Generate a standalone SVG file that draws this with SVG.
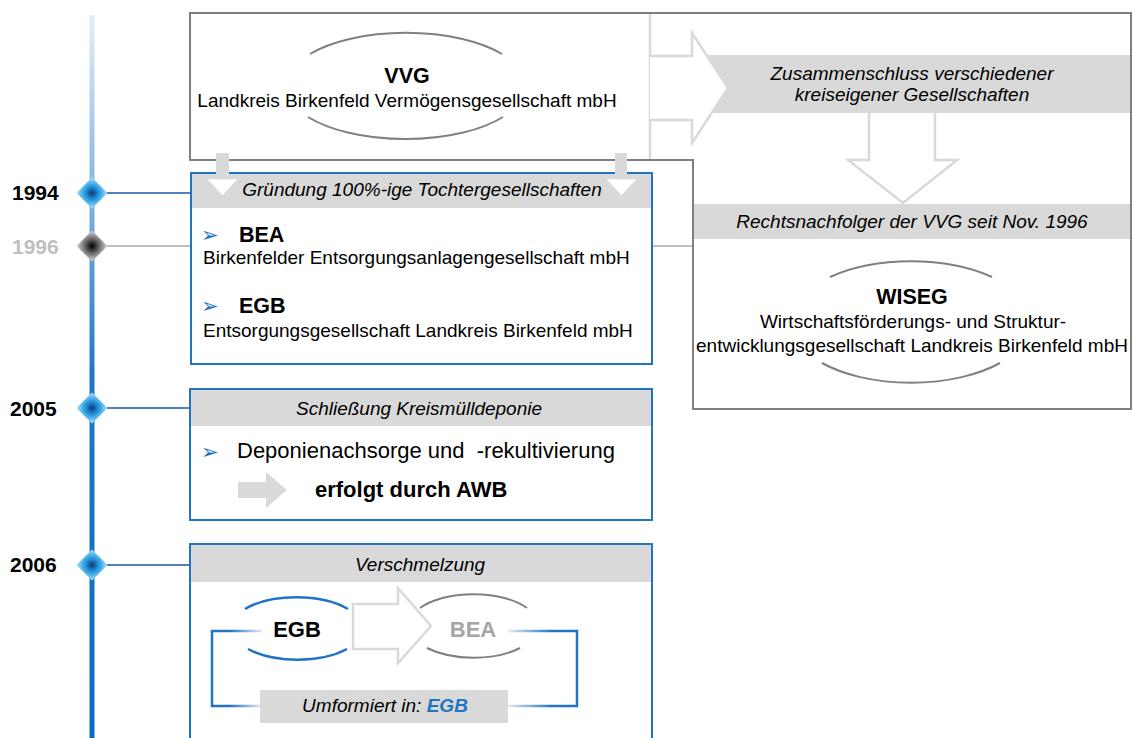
<svg xmlns="http://www.w3.org/2000/svg" width="1133" height="738" viewBox="0 0 1133 738">
<style>
text{font-family:"Liberation Sans",Arial,sans-serif;fill:#000}
.it{font-style:italic;font-size:19px}
.reg{font-size:19px}
.bold{font-weight:bold;font-size:21.5px}
.yr{font-weight:bold;font-size:21px}
.blueBox{fill:#fff;stroke:#1f74c4;stroke-width:2}
.band{fill:#d9d9d9}
.garc{fill:none;stroke:#808080;stroke-width:2}
.barc{fill:none;stroke:#1f74c4;stroke-width:2.5}
.lgArrow{fill:#fff;stroke:#d9d9d9;stroke-width:2.5}
.bullet{font-family:"DejaVu Sans",sans-serif;font-size:21px;fill:#1f74c4}
.conn{stroke:#4f81bd;stroke-width:2;fill:none}
</style>
<defs>
<linearGradient id="gTime" gradientUnits="userSpaceOnUse" x1="0" y1="15" x2="0" y2="738">
<stop offset="0" stop-color="#e6eef8"/>
<stop offset="0.3" stop-color="#6fa6da"/>
<stop offset="0.5" stop-color="#1f76c6"/>
<stop offset="1" stop-color="#0b6cc4"/>
</linearGradient>
<radialGradient id="gBlue" cx="50%" cy="50%" r="55%">
<stop offset="0" stop-color="#1b3570"/>
<stop offset="0.35" stop-color="#1b8fd9"/>
<stop offset="0.7" stop-color="#6cc4f0"/>
<stop offset="1" stop-color="#e4f3fc"/>
</radialGradient>
<radialGradient id="gGrey" cx="50%" cy="50%" r="55%">
<stop offset="0" stop-color="#000"/>
<stop offset="0.35" stop-color="#555"/>
<stop offset="0.7" stop-color="#aaa"/>
<stop offset="1" stop-color="#eee"/>
</radialGradient>
<linearGradient id="gBrL" gradientUnits="userSpaceOnUse" x1="212" y1="0" x2="262" y2="0">
<stop offset="0" stop-color="#1f74c4"/>
<stop offset="0.35" stop-color="#1f74c4"/>
<stop offset="1" stop-color="#e3eaf4"/>
</linearGradient>
<linearGradient id="gBrR" gradientUnits="userSpaceOnUse" x1="577" y1="0" x2="508" y2="0">
<stop offset="0" stop-color="#1f74c4"/>
<stop offset="0.35" stop-color="#1f74c4"/>
<stop offset="1" stop-color="#e3eaf4"/>
</linearGradient>
<polygon id="dia" points="0,-15.5 15.5,0 0,15.5 -15.5,0"/>
</defs>

<g id="timeline">
<line x1="92" y1="15" x2="92" y2="738" stroke="url(#gTime)" stroke-width="5"/>
</g>

<g id="connectors">
<line class="conn" x1="106" y1="193" x2="191" y2="193"/>
<line x1="106" y1="246" x2="693" y2="246" stroke="#bfbfbf" stroke-width="2"/>
<line class="conn" x1="106" y1="408" x2="191" y2="408"/>
<line class="conn" x1="106" y1="565" x2="191" y2="565"/>
</g>

<g id="years">
<use href="#dia" x="92" y="193" fill="url(#gBlue)"/>
<use href="#dia" x="92" y="246" fill="url(#gGrey)"/>
<use href="#dia" x="92" y="408" fill="url(#gBlue)"/>
<use href="#dia" x="92" y="565" fill="url(#gBlue)"/>
<text class="yr" x="12" y="200">1994</text>
<text class="yr" x="12" y="254" style="fill:#bfbfbf">1996</text>
<text class="yr" x="10" y="416">2005</text>
<text class="yr" x="10" y="572">2006</text>
</g>

<g id="vvg-wiseg">
<rect class="band" x="692" y="55" width="439" height="58"/>
<rect class="band" x="693" y="204" width="438" height="35"/>
<line x1="650" y1="13" x2="650" y2="160" stroke="#d9d9d9" stroke-width="2.5"/>
<path class="lgArrow" d="M650,56 H692 V33 L728,88 L692,143 V120 H650"/>
<path class="lgArrow" d="M869,113 V160 H848 L903,203 L957,160 H935 V113"/>
<path d="M190,160 V13 H1131 V409 H693 V160 Z" fill="none" stroke="#7f7f7f" stroke-width="2"/>
<path class="garc" d="M310,54 A120,53 0 0 1 502,54"/>
<path class="garc" d="M308,117 A120,53 0 0 0 503,117"/>
<text class="bold" x="407" y="83" text-anchor="middle">VVG</text>
<text class="reg" x="407" y="107" text-anchor="middle">Landkreis Birkenfeld Vermögensgesellschaft mbH</text>
<text class="it" x="912" y="80" text-anchor="middle">Zusammenschluss verschiedener</text>
<text class="it" x="912" y="101" text-anchor="middle">kreiseigener Gesellschaften</text>
<text class="it" x="912" y="228" text-anchor="middle">Rechtsnachfolger der VVG seit Nov. 1996</text>
<path class="garc" d="M830,277 A120,60 0 0 1 992,277"/>
<path class="garc" d="M822,363 A120,60 0 0 0 1000,363"/>
<text class="bold" x="912" y="304" text-anchor="middle">WISEG</text>
<text class="reg" x="913" y="328" text-anchor="middle">Wirtschaftsförderungs- und Struktur-</text>
<text class="reg" x="912" y="352" text-anchor="middle">entwicklungsgesellschaft Landkreis Birkenfeld mbH</text>
</g>

<g id="gruendung">
<rect class="blueBox" x="191" y="173" width="461" height="191"/>
<rect class="band" x="192" y="174" width="459" height="34"/>
<rect class="band" x="216" y="153" width="13" height="25"/>
<rect class="band" x="615" y="153" width="12" height="25"/>
<polygon class="lgArrow" points="205,178 240,178 222.5,197"/>
<polygon class="lgArrow" points="604,178 639,178 621.5,197"/>
<text class="it" x="422" y="196" text-anchor="middle">Gründung 100%-ige Tochtergesellschaften</text>
<text class="bullet" x="201" y="242">➢</text>
<text class="bold" x="239" y="242">BEA</text>
<text class="reg" x="203" y="264">Birkenfelder Entsorgungsanlagengesellschaft mbH</text>
<text class="bullet" x="201" y="313">➢</text>
<text class="bold" x="239" y="313">EGB</text>
<text class="reg" x="203" y="337">Entsorgungsgesellschaft Landkreis Birkenfeld mbH</text>
</g>

<g id="schliessung">
<rect class="blueBox" x="190" y="389" width="462" height="131"/>
<rect class="band" x="191" y="390" width="460" height="36"/>
<text class="it" x="419" y="415" text-anchor="middle">Schließung Kreismülldeponie</text>
<text class="bullet" x="201" y="459">➢</text>
<text x="237" y="458" style="font-size:22px;white-space:pre" xml:space="preserve">Deponienachsorge und  -rekultivierung</text>
<polygon class="band" points="238,482 266,482 266,472 287,490 266,508 266,498 238,498"/>
<text x="315" y="497" style="font-size:22px;font-weight:bold">erfolgt durch AWB</text>
</g>

<g id="verschmelzung">
<rect class="blueBox" x="190" y="544" width="462" height="210"/>
<rect class="band" x="191" y="545" width="460" height="37"/>
<text class="it" x="420" y="571" text-anchor="middle">Verschmelzung</text>
<line x1="212" y1="631" x2="262" y2="631" stroke="url(#gBrL)" stroke-width="2.5"/>
<line x1="212" y1="706" x2="260" y2="706" stroke="url(#gBrL)" stroke-width="2.5"/>
<line x1="212" y1="629.8" x2="212" y2="707.2" stroke="#1f74c4" stroke-width="2.5"/>
<line x1="508" y1="631" x2="577" y2="631" stroke="url(#gBrR)" stroke-width="2.5"/>
<line x1="508" y1="706" x2="577" y2="706" stroke="url(#gBrR)" stroke-width="2.5"/>
<line x1="577" y1="629.8" x2="577" y2="707.2" stroke="#1f74c4" stroke-width="2.5"/>
<path class="lgArrow" d="M353,604 H398 V588 L431,626 L398,663 V649 H353 Z"/>
<path class="barc" d="M245,609 A66,31.5 0 0 1 348,609"/>
<path class="barc" d="M248,649 A66,31.5 0 0 0 347,649"/>
<path class="garc" d="M420,608 A65,32 0 0 1 527,608"/>
<path class="garc" d="M427,648 A65,32 0 0 0 520,648"/>
<text x="297" y="637" text-anchor="middle" style="font-size:22px;font-weight:bold">EGB</text>
<text x="473" y="637" text-anchor="middle" style="font-size:22px;font-weight:bold;fill:#a6a6a6">BEA</text>
<rect class="band" x="260" y="690" width="248" height="33"/>
<text class="it" x="385" y="712" text-anchor="middle">Umformiert in: <tspan style="font-weight:bold;fill:#1f74c4">EGB</tspan></text>
</g>
</svg>
